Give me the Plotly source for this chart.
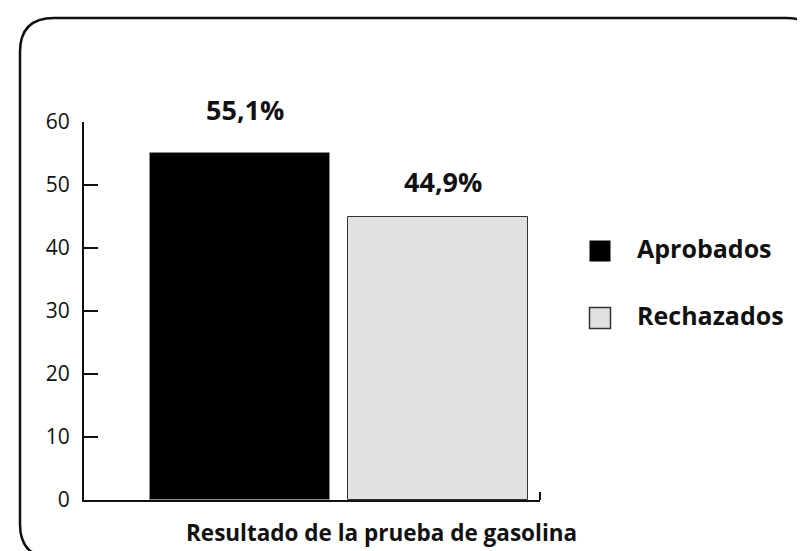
import plotly.graph_objects as go

# ---- data ----
categories = ["Aprobados", "Rechazados"]
values = [55.1, 44.9]
value_labels = ["55,1%", "44,9%"]
bar_colors = ["#000000", "#e0e1e3"]
bar_line_colors = ["#8a8a8a", "#333333"]
y_ticks = [0, 10, 20, 30, 40, 50, 60]
x_title = "Resultado de la prueba de gasolina"

W, H = 805, 551
L, R, T, B = 76, 532, 114, 492  # plot area in px


def fx(x):
    return x / W


def fy(y):
    return (H - y) / H


fig = go.Figure()
for i, c in enumerate(categories):
    fig.add_trace(go.Bar(
        x=[c], y=[values[i]], name=c, width=0.907,
        marker=dict(color=bar_colors[i], line=dict(color=bar_line_colors[i], width=1)),
        showlegend=False, xaxis="x", yaxis="y", cliponaxis=False,
    ))

# custom legend with large square markers
for i, c in enumerate(categories):
    fig.add_trace(go.Scatter(
        x=[0], y=[i], mode="markers", name=c, showlegend=False,
        marker=dict(symbol="square", size=21, color=bar_colors[i],
                    line=dict(color="#333333", width=1.5 if i else 0)),
        xaxis="x2", yaxis="y2", hoverinfo="skip", cliponaxis=False,
    ))
    fig.add_annotation(x=0, y=i, xref="x2", yref="y2", text="<b>%s</b>" % c,
                       showarrow=False, xanchor="left", xshift=35, yshift=3,
                       font=dict(family="Open Sans", size=25, color="#111"))

label_lift = [23, 15]
for i, c in enumerate(categories):
    fig.add_annotation(x=c, y=values[i], xref="x", yref="y", text="<b>%s</b>" % value_labels[i],
                       showarrow=False, yanchor="bottom", yshift=label_lift[i], xshift=5,
                       font=dict(family="Open Sans", size=27, color="#111"))

fig.add_annotation(x=fx(373), y=fy(524.5), xref="paper", yref="paper", text="<b>%s</b>" % x_title,
                   showarrow=False, xanchor="center", yanchor="middle",
                   font=dict(family="Open Sans", size=22.5, color="#111"))

# end tick of x axis
fig.add_shape(type="line", xref="x domain", yref="y domain", x0=1, x1=1, y0=0, y1=8 / (B - T),
              line=dict(color="#111", width=2))

# rounded border
x0, y0, x1, y1 = fx(12), fy(10), fx(812), fy(550)
rx = 34 / W
ry = 34 / H
path = (f"M {x0+rx},{y0} L {x1-rx},{y0} Q {x1},{y0} {x1},{y0-ry} "
        f"L {x1},{y1+ry} Q {x1},{y1} {x1-rx},{y1} L {x0+rx},{y1} Q {x0},{y1} {x0},{y1+ry} "
        f"L {x0},{y0-ry} Q {x0},{y0} {x0+rx},{y0} Z")
fig.add_shape(type="path", xref="paper", yref="paper", path=path,
              line=dict(color="#111", width=2.5), layer="above")

fig.update_layout(
    width=W, height=H,
    margin=dict(l=0, r=0, t=0, b=0, pad=0, autoexpand=False),
    paper_bgcolor="white", plot_bgcolor="white",
    showlegend=False,
    bargap=0,
    xaxis=dict(domain=[fx(L), fx(R)], range=[-0.786, 1.513], showticklabels=False, ticks="",
               showgrid=False, zeroline=False, showline=True, linecolor="#111", linewidth=2,
               anchor="y", automargin=False, fixedrange=True),
    yaxis=dict(domain=[fy(B), fy(T)], range=[0, 60], tickvals=y_ticks, ticks="inside",
               ticklen=14, tickwidth=2, tickcolor="#111", showgrid=False, zeroline=False,
               showline=True, linecolor="#111", linewidth=2, ticklabelstandoff=8, anchor="x",
               automargin=False, fixedrange=True,
               tickfont=dict(family="Open Sans", size=21, color="#111")),
    xaxis2=dict(domain=[fx(560), fx(800)], range=[-0.32, 2.08], visible=False, anchor="y2"),
    yaxis2=dict(domain=[fy(340), fy(210)], range=[1.448, -0.493], visible=False, anchor="x2"),
)

fig.write_html("out.html")
